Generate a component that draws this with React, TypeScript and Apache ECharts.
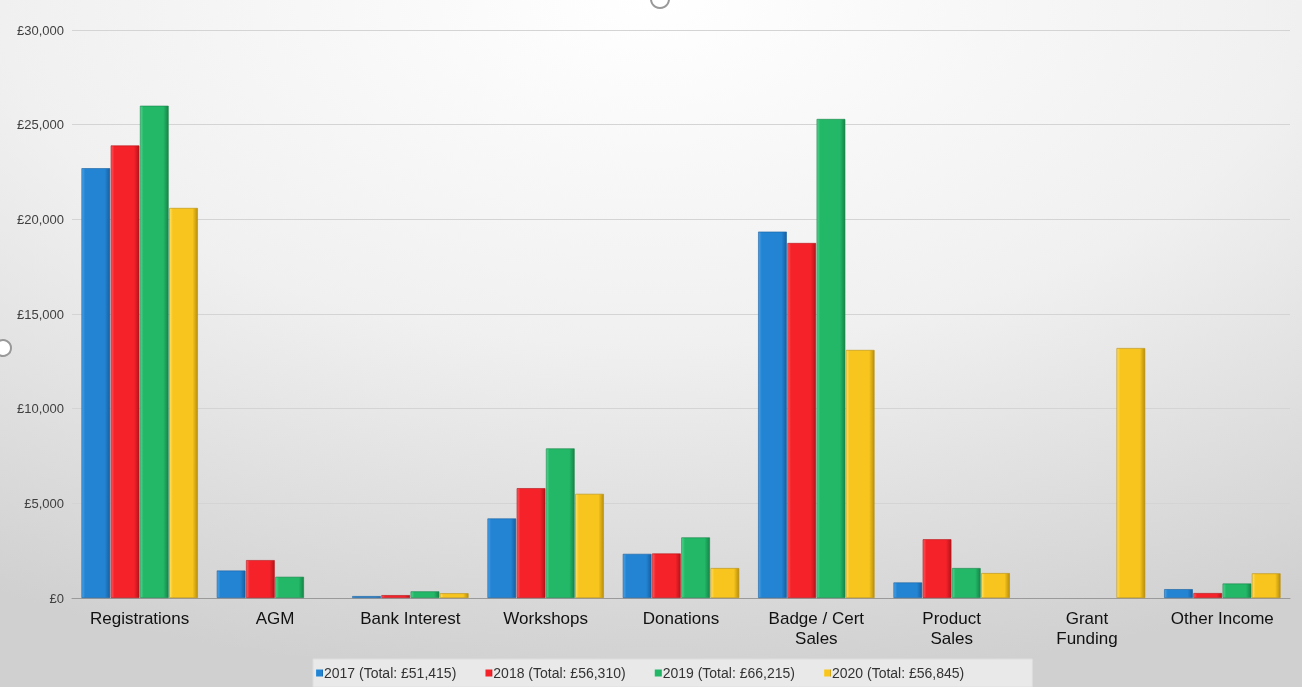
import React, { useEffect, useRef } from "react";
import * as echarts from "echarts";

const categories = [
  "Registrations",
  "AGM",
  "Bank Interest",
  "Workshops",
  "Donations",
  "Badge / Cert\nSales",
  "Product\nSales",
  "Grant\nFunding",
  "Other Income",
];

const seriesNames = [
  "2017 (Total: £51,415)",
  "2018 (Total: £56,310)",
  "2019 (Total: £66,215)",
  "2020 (Total: £56,845)",
];

const values2017 = [22700, 1450, 100, 4200, 2330, 19350, 820, 0, 465];
const values2018 = [23900, 2000, 150, 5800, 2350, 18750, 3100, 0, 260];
const values2019 = [26000, 1120, 350, 7900, 3200, 25300, 1580, 0, 765];
const values2020 = [20600, 0, 250, 5500, 1580, 13100, 1315, 13200, 1300];

const yTicks = [0, 5000, 10000, 15000, 20000, 25000, 30000];

const palette = [
  { light: "#4aa3e8", base: "#2384d3", dark: "#17609f" },
  { light: "#ff5a5f", base: "#f52229", dark: "#b5141a" },
  { light: "#4fd58c", base: "#22b868", dark: "#178548" },
  { light: "#ffe066", base: "#f7c51e", dark: "#b98f0c" },
];

function barColor(p: { light: string; base: string; dark: string }) {
  return new echarts.graphic.LinearGradient(0, 0, 1, 0, [
    { offset: 0, color: p.light },
    { offset: 0.12, color: p.base },
    { offset: 0.82, color: p.base },
    { offset: 1, color: p.dark },
  ]);
}

export default function App() {
  const ref = useRef<HTMLDivElement>(null);

  useEffect(() => {
    if (!ref.current) return;
    const chart = echarts.init(ref.current, null, { renderer: "svg" });
    const data = [values2017, values2018, values2019, values2020];
    const fmt = (v: number) => "£" + v.toLocaleString("en-GB");

    chart.setOption({
      animation: false,
      backgroundColor: new echarts.graphic.RadialGradient(0.5, 0.0, 1.0, [
        { offset: 0, color: "#ffffff" },
        { offset: 0.5, color: "#f0f0f0" },
        { offset: 1, color: "#d0d0d0" },
      ]),
      textStyle: { fontFamily: "Liberation Sans, Arial, sans-serif" },
      grid: { left: 72, right: 12, top: 30, bottom: 89, containLabel: false },
      legend: {
        bottom: 0,
        left: 313,
        itemWidth: 7,
        itemHeight: 7,
        itemGap: 29,
        icon: "rect",
        padding: [7, 68, 7, 3],
        backgroundColor: "#e9e9e9",
        borderColor: "#dedede",
        borderWidth: 1,
        itemStyle: { borderWidth: 0 },
        textStyle: { fontSize: 14, color: "#333", padding: [0, 0, 0, -4] },
        data: seriesNames,
      },
      xAxis: {
        type: "category",
        data: categories,
        axisLine: { show: true, lineStyle: { color: "#9a9a9a", width: 1 } },
        axisTick: { show: false },
        axisLabel: {
          color: "#111",
          fontSize: 17,
          lineHeight: 20,
          margin: 10,
          interval: 0,
        },
      },
      yAxis: {
        type: "value",
        min: yTicks[0],
        max: yTicks[yTicks.length - 1],
        interval: 5000,
        axisLine: { show: false },
        axisTick: { show: false },
        splitLine: { lineStyle: { color: "#d4d4d4", width: 1 } },
        axisLabel: {
          color: "#404040",
          fontSize: 13,
          margin: 8,
          formatter: (v: number) => fmt(v),
        },
      },
      series: seriesNames.map((name, i) => ({
        name,
        type: "bar",
        data: data[i].map((v) => (v === 0 ? "-" : v)),
        barGap: "2%",
        barCategoryGap: "14%",
        itemStyle: {
          color: barColor(palette[i]),
          borderColor: palette[i].dark,
          borderWidth: 0.6,
        },
      })),
      graphic: [
        {
          type: "circle",
          shape: { cx: 660, cy: -1, r: 9 },
          style: { fill: "none", stroke: "#999", lineWidth: 2 },
        },
        {
          type: "circle",
          shape: { cx: 3, cy: 348, r: 8 },
          style: { fill: "#fff", stroke: "#999", lineWidth: 2 },
        },
        {
          type: "circle",
          shape: { cx: 686, cy: 694, r: 8 },
          style: { fill: "none", stroke: "#999", lineWidth: 2 },
        },
      ],
    });

    return () => chart.dispose();
  }, []);

  return (
    <div
      ref={ref}
      style={{ position: "fixed", left: 0, top: 0, width: 1302, height: 687 }}
    />
  );
}
